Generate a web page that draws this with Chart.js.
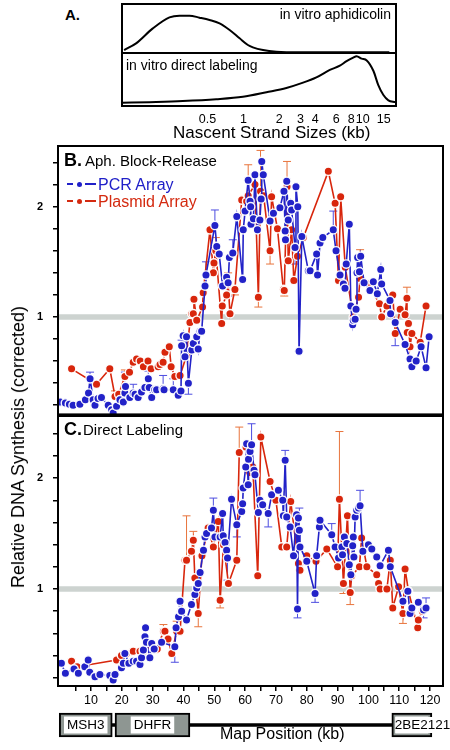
<!DOCTYPE html>
<html><head><meta charset="utf-8">
<script src="https://cdn.jsdelivr.net/npm/chart.js@4/dist/chart.umd.min.js"></script>
<style>
html,body{margin:0;padding:0;background:#fff;}
body{width:450px;height:750px;position:relative;overflow:hidden;font-family:"Liberation Sans",Arial,sans-serif;}
canvas{position:absolute;}
.t{position:absolute;white-space:nowrap;color:#000;line-height:1;}
.sym{position:absolute;height:1.6px;}
.dot{position:absolute;width:5px;height:5px;border-radius:50%;}
</style></head><body>
<canvas id="cA1" width="278" height="51" style="left:120px;top:2px"></canvas>
<canvas id="cA2" width="278" height="90" style="left:120px;top:53px"></canvas>
<canvas id="cB" width="450" height="280" style="left:0;top:140px"></canvas>
<canvas id="cC" width="450" height="300" style="left:0;top:410px"></canvas>
<canvas id="cG" width="450" height="50" style="left:0;top:700px"></canvas>

<div class="t" style="left:65px;top:6.5px;font-weight:bold;font-size:15px">A.</div>
<div class="t" style="right:59px;top:7px;font-size:14px">in vitro aphidicolin</div>
<div class="t" style="left:126px;top:57.5px;font-size:14px">in vitro direct labeling</div>
<div class="t" style="left:173px;top:123.5px;font-size:17px">Nascent Strand Sizes (kb)</div>

<div class="t" style="left:64px;top:150.8px;font-weight:bold;font-size:18px">B.</div>
<div class="t" style="left:85px;top:153.3px;font-size:15px">Aph. Block-Release</div>
<div class="sym" style="left:67px;top:183.2px;width:6px;background:#2020c8"></div>
<div class="dot" style="left:77px;top:181.5px;background:#2020c8"></div>
<div class="sym" style="left:85px;top:183.2px;width:11px;background:#2020c8"></div>
<div class="t" style="left:98px;top:176.5px;font-size:16px;color:#2020c8">PCR Array</div>
<div class="sym" style="left:67px;top:200.2px;width:6px;background:#d42a10"></div>
<div class="dot" style="left:77px;top:198.5px;background:#d42a10"></div>
<div class="sym" style="left:85px;top:200.2px;width:11px;background:#d42a10"></div>
<div class="t" style="left:98px;top:193.5px;font-size:16px;color:#d42a10">Plasmid Array</div>

<div class="t" style="left:64px;top:419.8px;font-weight:bold;font-size:18px">C.</div>
<div class="t" style="left:83px;top:422.3px;font-size:15px">Direct Labeling</div>

<div class="t" style="left:18px;top:447px;font-size:18px;transform:translate(-50%,-50%) rotate(-90deg)">Relative DNA Synthesis (corrected)</div>
<div class="t" style="left:220px;top:725.8px;font-size:16px">Map Position (kb)</div>

<script>
// ---------- Panel A: nascent strand size distributions ----------
const aTopSize = [0.100,0.126,0.174,0.240,0.291,0.353,0.428,0.520,0.631,0.766,0.929,1.09,1.20,1.46,1.89,2.97,5.65,16.7];
const aTopVal  = [0.061,0.197,0.503,0.728,0.762,0.762,0.721,0.673,0.605,0.469,0.299,0.163,0.116,0.061,0.027,0.014,0.014,0.014];
const aBotSize = [0.097,0.163,0.310,0.592,0.99,1.56,2.29,3.16,4.09,5.30,6.43,7.32,8.32,8.88,9.79,10.8,12.3,13.5,14.9,16.4,18.7];
const aBotVal  = [0.06,0.073,0.093,0.127,0.173,0.26,0.34,0.44,0.54,0.68,0.76,0.846,0.913,0.94,0.893,0.86,0.66,0.393,0.207,0.107,0.073];
const aTicks = [0.5,1,2,3,4,6,8,10,15];
const aTickLabels = ['0.5','1','2','3','4','6','8','10','15'];

// ---------- Panels B/C: [map position kb, relative synthesis, error (+ up / - down)] ----------
const bPcr = [[0.0,0.23,0],[1.7,0.22,0],[3.0,0.21,0],[4.2,0.20,0],[6.4,0.21,0],[8.2,0.25,0],[9.2,0.31,0],[9.7,0.44,0.06],[10.7,0.25,0],[11.3,0.20,0],[12.3,0.26,0],[13.4,0.27,0],[15.6,0.20,0],[16.7,0.16,0],[17.2,0.13,0],[18.3,0.19,0],[19.4,0.25,0],[20.5,0.23,0],[21.0,0.31,0.19],[21.2,0.37,0],[22.6,0.27,0],[23.7,0.31,0.08],[24.3,0.30,0],[25.3,0.27,0],[26.4,0.32,0],[27.5,0.36,0],[28.6,0.44,0.07],[28.9,0.36,0],[29.7,0.27,0],[30.7,0.34,0],[31.3,0.34,0],[33.4,0.35,0.12],[33.7,0.34,0],[36.7,0.34,0.1],[38.3,0.29,0],[39.2,0.33,0],[39.4,0.74,0.05],[39.9,0.83,0],[40.5,0.64,0],[41.0,0.82,0],[41.6,0.40,-0.1],[42.7,0.70,0],[43.2,0.76,0],[44.3,0.82,0],[44.8,0.71,0],[45.4,0.87,0],[45.9,0.87,0],[47.0,1.28,0],[47.3,1.38,0.12],[50.2,1.83,0.14],[50.8,1.64,0],[51.6,1.57,0],[52.7,1.28,0],[54.0,1.36,0],[54.5,1.31,-0.12],[54.9,1.54,0],[56.0,1.58,0.12],[57.3,1.91,0],[59.2,1.34,0],[59.4,1.79,0],[60.0,1.96,0],[61.0,2.24,0],[61.6,2.05,0],[61.8,2.00,0],[61.9,1.84,0],[62.7,1.89,0],[63.2,2.29,0],[64.0,1.79,0],[64.8,1.88,0],[65.2,2.07,0],[65.4,2.41,0],[65.9,2.29,0],[68.1,1.87,0],[69.2,1.94,0],[71.3,1.99,0],[72.6,2.14,0],[73.0,1.78,0],[73.1,1.70,0],[73.5,2.23,0],[74.0,1.88,0],[74.8,2.03,0],[75.1,1.97,0],[76.2,1.63,-0.15],[76.5,2.18,0],[77.1,2.00,0],[77.5,0.69,0],[78.4,1.73,0],[80.5,1.42,0],[81.1,1.42,0],[83.2,1.57,0],[83.5,1.38,0],[84.3,1.67,0],[85.2,1.72,0],[88.6,1.79,0.17],[89.5,1.60,0],[90.8,1.38,0],[91.9,1.30,0],[92.4,1.26,0],[92.8,1.48,0],[93.8,1.84,0],[94.3,1.10,0],[94.9,0.93,0],[95.1,0.97,0],[95.7,0.98,0],[96.0,1.07,0],[96.3,1.40,0],[96.5,1.54,0],[97.1,1.41,0],[97.5,1.55,0],[98.6,1.31,0],[100.5,1.24,0.07],[101.6,1.32,0],[102.9,1.21,0],[104.0,1.43,0],[104.3,1.30,0],[107.0,1.15,0],[107.2,1.03,0],[108.7,0.95,-0.21],[111.9,0.75,0],[113.5,0.62,0],[114.1,0.55,0],[115.5,0.60,0],[117.1,0.73,0],[118.7,0.54,0],[119.7,0.82,0]];

const bPla = [[3.7,0.53,0],[11.8,0.39,0],[16.1,0.53,0],[17.8,0.28,0.05],[19.0,0.30,0],[21.0,0.46,0.06],[22.5,0.50,0],[23.7,0.59,0],[24.8,0.62,0],[26.0,0.60,0],[27.0,0.55,0],[28.5,0.60,0],[29.5,0.53,0],[31.8,0.55,0],[32.4,0.57,0],[33.4,0.59,0],[34.0,0.68,0],[35.4,0.73,0],[36.0,0.55,0],[37.2,0.46,0],[38.9,0.47,0],[41.0,0.65,0],[42.1,0.95,0.07],[42.7,1.03,0],[43.2,1.03,0],[43.4,1.16,0],[44.3,0.97,0],[46.2,1.09,0],[46.4,1.22,0],[48.6,1.79,0],[49.7,1.40,0],[49.9,1.49,0],[50.5,1.60,0.12],[52.4,0.94,0],[52.6,1.10,0],[54.0,1.20,0],[54.5,1.30,0.1],[55.1,1.03,0],[56.7,1.25,-0.05],[58.9,2.06,0],[60.5,2.05,0],[61.0,2.10,0.28],[63.2,2.20,0],[64.3,1.18,-0.09],[65.0,2.14,0.37],[66.0,2.10,0],[68.1,1.60,-0.12],[68.6,2.09,0],[70.5,1.80,0],[72.4,1.25,0],[72.7,1.24,-0.05],[73.6,2.18,0.23],[74.0,1.51,0],[75.1,1.79,0],[75.8,1.33,0],[77.0,1.55,0],[78.9,1.72,0],[87.0,2.32,0],[89.2,2.03,0],[90.3,1.33,0],[91.0,2.09,0],[92.5,1.45,0],[95.1,1.00,0],[96.8,1.18,0],[97.3,1.35,0.26],[100.0,1.30,0],[103.6,1.12,0],[104.3,1.00,0],[106.0,1.10,0],[107.9,1.20,0],[108.7,0.85,0],[110.3,1.07,0],[111.9,1.02,0],[112.5,1.17,0.1],[112.6,0.86,0],[113.0,0.94,0],[113.5,0.73,0],[114.1,0.85,0],[116.8,0.77,0],[118.7,1.10,0]];

const cPcr = [[0.4,0.33,0],[1.7,0.24,0],[4.5,0.28,0],[5.9,0.24,0],[8.0,0.30,0],[9.1,0.36,0],[9.6,0.25,0],[11.3,0.21,0],[12.9,0.23,0],[16.1,0.22,0],[17.2,0.18,0],[17.8,0.23,0],[19.9,0.29,0],[20.5,0.33,0],[21.0,0.42,0],[22.3,0.33,0],[23.7,0.35,0],[24.8,0.35,0],[25.9,0.32,0],[26.4,0.38,0],[27.0,0.45,0],[27.5,0.57,0],[27.7,0.65,0],[28.0,0.52,0],[29.1,0.38,0],[29.7,0.51,0],[30.5,0.46,0],[32.9,0.52,0],[37.2,0.48,-0.14],[37.6,0.65,0],[38.4,0.75,0],[38.9,0.89,0],[39.2,0.80,0],[39.4,0.80,0],[41.0,0.72,0],[42.6,0.86,0],[43.7,0.95,0],[44.3,1.01,0],[44.8,1.05,0],[45.4,1.15,0],[46.5,1.35,0],[47.0,1.47,0],[47.5,1.50,0],[49.1,1.55,0],[49.7,1.71,0.11],[50.2,1.47,0],[51.9,1.47,0],[52.7,1.68,0],[52.9,1.48,0],[53.5,1.42,0],[54.0,1.35,0],[54.3,1.28,-0.2],[55.6,1.81,0],[57.3,1.58,-0.11],[58.9,1.70,0],[59.2,1.77,0],[59.4,1.91,0],[60.2,2.10,0],[60.5,2.31,0],[61.0,1.94,0],[61.1,2.17,0],[61.6,2.24,0],[62.1,2.30,0.19],[62.9,2.07,0],[63.2,2.03,0],[64.3,1.69,0],[64.8,1.80,0],[65.7,1.76,0],[67.5,1.68,-0.12],[68.6,1.85,0],[70.8,1.89,0],[72.2,1.80,0],[72.4,1.66,0],[73.0,2.16,0.09],[73.5,1.65,0],[74.6,1.56,0],[75.7,1.30,0],[76.7,1.67,0],[77.0,0.82,-0.08],[77.3,1.64,0],[77.6,1.53,0.2],[77.8,1.38,0],[80.0,1.25,0],[82.7,0.96,-0.08],[83.2,1.30,0],[84.1,1.56,0],[84.3,1.62,0],[88.1,1.49,0.1],[89.2,1.38,0],[90.3,1.28,0],[91.4,1.38,0],[91.6,1.31,0],[92.2,1.47,0],[93.0,1.41,0],[93.8,1.22,0],[94.3,1.13,0],[94.9,1.39,0],[95.1,1.47,0],[95.3,1.29,0],[95.7,1.65,0],[96.2,1.71,0],[96.8,1.73,0],[97.3,1.75,0.14],[98.2,1.34,0],[100.0,1.40,0],[101.1,1.36,0],[102.7,1.29,0],[103.8,1.21,0],[106.5,1.35,0],[107.1,1.20,0],[111.2,0.89,0],[112.8,0.98,0],[113.5,0.78,0],[114.1,0.83,0],[116.2,0.88,0],[117.9,0.81,-0.07],[118.7,0.83,0.09]];

const cPla = [[3.7,0.35,0],[5.5,0.30,0],[18.3,0.36,0],[19.9,0.40,0],[21.5,0.42,0],[23.7,0.44,0],[25.9,0.44,0],[27.0,0.44,0],[30.0,0.50,0],[31.5,0.46,0],[33.5,0.62,0.06],[34.0,0.62,0],[35.0,0.55,0],[36.2,0.42,0],[37.8,0.62,0.09],[38.9,0.62,0],[40.5,1.26,0],[41.0,1.26,0.40],[42.6,1.34,0],[43.2,1.44,0.08],[43.7,1.10,0],[44.8,0.78,-0.12],[46.0,1.30,0],[48.0,1.55,0],[49.7,1.38,0],[51.3,1.61,0],[51.9,0.90,-0.07],[53.0,1.40,0],[54.6,1.05,0],[57.3,1.26,0],[58.1,2.23,0.23],[60.3,2.28,0],[61.5,2.05,0],[62.5,2.10,0],[64.1,1.12,0],[65.1,2.37,0],[68.1,1.97,0],[70.0,1.80,0],[71.9,1.38,0],[73.5,1.38,0],[74.8,1.79,0],[77.3,1.23,0],[77.8,1.17,0],[80.0,1.30,0],[83.0,1.25,0],[86.5,1.36,0],[90.0,1.20,0],[90.6,1.81,0.61],[91.9,1.05,-0.09],[93.2,1.66,0],[94.1,0.97,-0.11],[94.6,1.12,0],[97.1,1.20,0],[97.8,1.46,0],[99.5,1.20,0],[102.7,1.13,0],[103.3,1.05,0],[103.8,1.00,0],[106.0,1.00,0],[107.1,1.26,0],[107.9,0.83,0],[109.8,1.02,0],[111.2,0.78,-0.09],[111.9,1.18,0],[113.0,0.98,0],[116.0,0.65,0],[116.2,0.72,0],[117.5,0.80,0]];

const yTickVals = [0.2,0.4,0.6,0.8,1.0,1.2,1.4,1.6,1.8,2.0,2.2,2.4];
const yTickLabels = ['','','','','1','','','','','2','',''];
const xTickVals = [5,10,15,20,25,30,35,40,45,50,55,60,65,70,75,80,85,90,95,100,105,110,115,120];
const xTickLabels = ['','10','','20','','30','','40','','50','','60','','70','','80','','90','','100','','110','','120'];
const referenceLevel = 1;

// ---------- Gene map ----------
const geneNames = ['MSH3','DHFR','2BE2121'];
const geneStart = [-0.3, 17.8, 107.6];
const geneEnd   = [16.9, 42.1, 120.6];
const mapLine   = [16.9, 107.6];

// ----------------------------------------------------------------
Chart.defaults.font.family = '"Liberation Sans", Arial, sans-serif';
Chart.defaults.color = '#000';
const X_MIN = -0.7, X_MAX = 124.2;
const BLUE = '#2222c8', RED = '#d8260c';

const framePlugin = { id:'frame', afterDraw(chart){
  const a = chart.chartArea, c = chart.ctx;
  c.save(); c.strokeStyle = '#000'; c.lineWidth = 2;
  c.strokeRect(a.left, a.top, a.right - a.left, a.bottom - a.top); c.restore();
}};
const errPlugin = { id:'errbars', beforeDatasetsDraw(chart){
  const c = chart.ctx, xs = chart.scales.x, ys = chart.scales.y, a = chart.chartArea;
  c.save(); c.beginPath(); c.rect(a.left, a.top, a.right - a.left, a.bottom - a.top); c.clip();
  chart.data.datasets.forEach(ds => {
    if (!ds.errs) return;
    c.strokeStyle = ds.errColor; c.lineWidth = 1;
    ds.errs.forEach((e, j) => {
      if (!e) return;
      const p = ds.data[j];
      const x = xs.getPixelForValue(p.x), y0 = ys.getPixelForValue(p.y), y1 = ys.getPixelForValue(p.y + e);
      c.beginPath(); c.moveTo(x, y0); c.lineTo(x, y1); c.moveTo(x - 4, y1); c.lineTo(x + 4, y1); c.stroke();
    });
  });
  c.restore();
}};

const common = { responsive:false, animation:false, devicePixelRatio:1, events:[],
  plugins:{ legend:{display:false}, tooltip:{enabled:false} } };

// Panel A
function curveChart(id, sizes, vals, showAxis){
  const xScale = { type:'logarithmic', min:0.096, max:19, display: showAxis,
            afterBuildTicks: s => { s.ticks = aTicks.map(v => ({value:v})); },
            grid:{ display:false, drawTicks:false }, border:{display:false},
            ticks:{ padding:6, autoSkip:false, maxRotation:0, font:{size:12.5}, color:'#000',
                    callback:(v,i) => aTickLabels[i] } };
  if (showAxis) xScale.afterFit = s => { s.height = 37; s.paddingLeft = 0; s.paddingRight = 0; };
  return new Chart(document.getElementById(id), {
    type:'line',
    data:{ datasets:[{ data: sizes.map((s,i)=>({x:s, y:vals[i]})), borderColor:'#000', borderWidth:2,
      pointRadius:0, cubicInterpolationMode:'monotone', fill:false }]},
    options:{ ...common,
      layout:{ padding:{ left:2, right:2, top: showAxis ? 0 : 2, bottom:0 } },
      scales:{ x: xScale, y:{ type:'linear', min:0, max:1, display:false } }
    },
    plugins:[framePlugin]
  });
}
curveChart('cA1', aTopSize, aTopVal, false);
curveChart('cA2', aBotSize, aBotVal, true);

// Panels B, C
function panel(id, pcr, pla, yMin, yMax, showX){
  const mkDs = (arr, label, color, errColor, order) => ({
    label, data: arr.map(p => ({x:p[0], y:p[1]})), errs: arr.map(p => p[2]), errColor,
    borderColor: color, borderWidth: 1.6, backgroundColor: color,
    pointRadius: 4.2, pointBorderColor: 'rgba(255,255,255,0.95)', pointBorderWidth: 1.4,
    pointBackgroundColor: color, order, tension: 0
  });
  const xScale = { type:'linear', min:X_MIN, max:X_MAX, display: showX,
            afterBuildTicks: s => { s.ticks = xTickVals.map(v => ({value:v})); },
            grid:{ drawOnChartArea:false, drawTicks:true, tickLength:5, color:'#000', lineWidth:1.5 },
            border:{display:false},
            ticks:{ padding:2, autoSkip:false, maxRotation:0, font:{size:12.5}, color:'#000',
                    callback:(v,i) => xTickLabels[i] } };
  if (showX) xScale.afterFit = s => { s.height = 24; s.paddingLeft = 0; s.paddingRight = 0; };
  return new Chart(document.getElementById(id), {
    type:'line',
    data:{ datasets:[
      mkDs(pcr, 'PCR Array', BLUE, '#4d4de0', 0),
      mkDs(pla, 'Plasmid Array', RED, '#e8743c', 1),
      { label:'ref', data:[{x:X_MIN, y:referenceLevel},{x:X_MAX, y:referenceLevel}], borderColor:'#cdd3d0',
        borderWidth:5.5, pointRadius:0, order:9 }
    ]},
    options:{ ...common,
      layout:{ padding:{ left:0, right:7, top:6, bottom: showX ? 0 : 4 } },
      scales:{
        x: xScale,
        y:{ type:'linear', min:yMin, max:yMax,
            afterBuildTicks: s => { s.ticks = yTickVals.map(v => ({value:v})); },
            afterFit: s => { s.width = 58; s.paddingTop = 0; s.paddingBottom = 0; },
            grid:{ drawOnChartArea:false, drawTicks:true, tickLength:5, color:'#000', lineWidth:1.5 },
            border:{display:false},
            ticks:{ padding:10, autoSkip:false, font:{size:11, weight:'bold'}, color:'#000',
                    callback:(v,i) => yTickLabels[i] } }
      }
    },
    plugins:[errPlugin, framePlugin]
  });
}
panel('cB', bPcr, bPla, 0.117, 2.55, false);
panel('cC', cPcr, cPla, 0.126, 2.56, true);

// Gene map
const geneLabelPlugin = { id:'geneLabels', afterDatasetsDraw(chart){
  const c = chart.ctx, meta = chart.getDatasetMeta(1);
  c.save(); c.font = '13.5px "Liberation Sans", Arial, sans-serif'; c.textBaseline = 'middle';
  meta.data.forEach((el, i) => {
    const l = Math.min(el.x, el.base), r = Math.max(el.x, el.base), y = el.y, h = el.height;
    const name = geneNames[i], tw = c.measureText(name).width;
    c.fillStyle = '#fff';
    if (tw > r - l - 8) {
      c.fillRect(l + 3.5, y - h/2 + 3.5, r - l - 7, h - 7);
      c.fillRect(l + 3.5, y - 8, tw + 2, 16);
      c.fillStyle = '#000'; c.textAlign = 'left'; c.fillText(name, l + 3, y + 0.5);
    } else {
      const cx = (l + r) / 2;
      c.fillRect(cx - tw/2 - 3, y - 8.5, tw + 6, 17);
      c.fillStyle = '#000'; c.textAlign = 'center'; c.fillText(name, cx, y + 0.5);
    }
  });
  c.restore();
}};
new Chart(document.getElementById('cG'), {
  type:'bar',
  data:{ labels:['map'], datasets:[
    { label:'line', data:[{x:mapLine, y:'map'}], backgroundColor:'#000', borderWidth:0,
      barThickness:3, grouped:false, order:2 },
    { label:'genes', data: geneStart.map((s,i) => ({x:[s, geneEnd[i]], y:'map'})),
      backgroundColor:'#8e9692', borderColor:'#000', borderWidth:2, borderSkipped:false,
      barThickness:24, grouped:false, order:1 }
  ]},
  options:{ ...common, indexAxis:'y',
    layout:{ padding:{ left:58, right:7, top:0, bottom:0 } },
    scales:{ x:{ type:'linear', min:X_MIN, max:X_MAX, display:false },
             y:{ type:'category', display:false } } },
  plugins:[geneLabelPlugin]
});
</script>
</body></html>
